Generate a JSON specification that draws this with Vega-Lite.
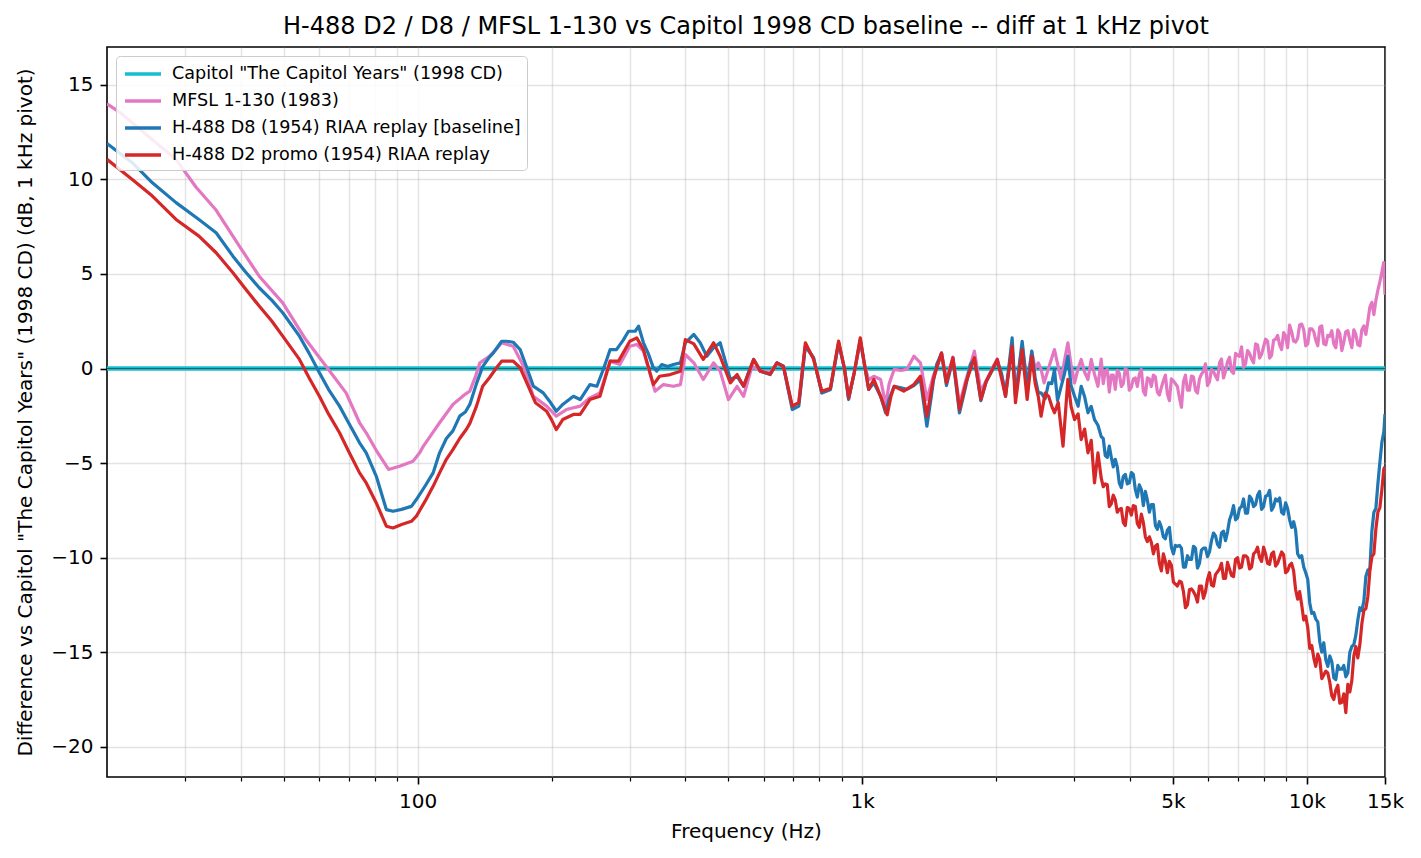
{
"$schema": "https://vega.github.io/schema/vega-lite/v6.json",
"width": 1278, "height": 730,
"autosize": {"type": "none"},
"padding": {"left": 107, "top": 47, "right": 36, "bottom": 81},
"background": "white",
"title": {"text": "H-488 D2 / D8 / MFSL 1-130 vs Capitol 1998 CD baseline -- diff at 1 kHz pivot", "font": "DejaVu Sans", "fontSize": 24, "fontWeight": "normal", "color": "black", "anchor": "middle", "offset": 8, "frame": "group"},
"config": {
  "font": "DejaVu Sans",
  "view": {"stroke": "black", "strokeWidth": 1.6}
},
"datasets": {
"capitol": [{"f":20,"v":0},{"f":15000,"v":0}],
"mfsl": [{"f":20,"v":14.0},{"f":21.5,"v":13.5},{"f":22.8,"v":13.0},{"f":25.3,"v":12.1},{"f":28.6,"v":11.06},{"f":31.7,"v":9.6},{"f":35.1,"v":8.41},{"f":39.7,"v":6.47},{"f":44,"v":4.88},{"f":49.7,"v":3.47},{"f":56,"v":1.53},{"f":62.2,"v":0.12},{"f":69,"v":-1.29},{"f":74,"v":-2.87},{"f":76.6,"v":-3.4},{"f":81,"v":-4.4},{"f":86,"v":-5.34},{"f":91,"v":-5.17},{"f":97.6,"v":-4.9},{"f":101,"v":-4.46},{"f":103,"v":-4.1},{"f":108,"v":-3.4},{"f":112,"v":-2.87},{"f":120,"v":-1.9},{"f":128,"v":-1.35},{"f":131,"v":-1.2},{"f":135,"v":-0.4},{"f":138,"v":0.3},{"f":145,"v":0.65},{"f":150,"v":1.0},{"f":154.5,"v":1.36},{"f":164,"v":1.18},{"f":173,"v":0.12},{"f":182,"v":-1.47},{"f":195,"v":-1.99},{"f":205,"v":-2.52},{"f":216,"v":-2.17},{"f":232,"v":-1.99},{"f":244,"v":-1.55},{"f":257,"v":-1.29},{"f":271,"v":0.39},{"f":285,"v":0.21},{"f":300,"v":1.18},{"f":311,"v":1.27},{"f":322,"v":0.92},{"f":342,"v":-1.2},{"f":357,"v":-0.85},{"f":376,"v":-0.94},{"f":390,"v":-0.85},{"f":400,"v":0.74},{"f":418,"v":0.3},{"f":439,"v":-0.58},{"f":463,"v":0.3},{"f":479,"v":-0.14},{"f":500,"v":-1.64},{"f":523,"v":-0.94},{"f":541,"v":-1.47},{"f":565,"v":0.12},{"f":590,"v":-0.14},{"f":621,"v":-0.23},{"f":643,"v":0.3},{"f":665,"v":0.12},{"f":680,"v":-1.0},{"f":696,"v":-2.0},{"f":720,"v":-1.8},{"f":745,"v":1.18},{"f":777,"v":0.57},{"f":811,"v":-1.29},{"f":848,"v":-1.11},{"f":885,"v":1.36},{"f":912,"v":0.0},{"f":932,"v":-1.6},{"f":960,"v":-0.2},{"f":990,"v":1.4},{"f":1012,"v":0.2},{"f":1034,"v":-0.6},{"f":1062,"v":-0.41},{"f":1100,"v":-0.58},{"f":1129,"v":-1.9},{"f":1150,"v":-0.8},{"f":1180,"v":-0.05},{"f":1222,"v":-0.1},{"f":1260,"v":-0.05},{"f":1307,"v":0.65},{"f":1352,"v":0.3},{"f":1398,"v":-1.64},{"f":1445,"v":-0.4},{"f":1508,"v":0.8},{"f":1547,"v":-0.6},{"f":1600,"v":0.6},{"f":1655,"v":-1.9},{"f":1711,"v":-0.6},{"f":1788,"v":0.92},{"f":1849,"v":-1.2},{"f":1961,"v":0.0},{"f":2013,"v":0.5},{"f":2101,"v":-1.2},{"f":2174,"v":1.2},{"f":2212,"v":-1.3},{"f":2290,"v":1.2},{"f":2350,"v":-0.8},{"f":2407,"v":0.9},{"f":2450,"v":0.0},{"f":2490,"v":0.3},{"f":2526,"v":-0.05},{"f":2566,"v":-0.76},{"f":2640,"v":0.2},{"f":2707,"v":1.0},{"f":2760,"v":0.1},{"f":2803,"v":-0.58},{"f":2850,"v":0.4},{"f":2902,"v":1.36},{"f":2950,"v":0.2},{"f":3004,"v":-0.76},{"f":3060,"v":0.0},{"f":3109,"v":0.48},{"f":3165,"v":-0.2},{"f":3220,"v":-0.58},{"f":3275,"v":0.48},{"f":3330,"v":-0.3},{"f":3391,"v":-0.94},{"f":3449,"v":0.5},{"f":3522,"v":-0.15},{"f":3596,"v":-1.25},{"f":3671,"v":-0.35},{"f":3748,"v":-0.1},{"f":3827,"v":-0.95},{"f":3907,"v":0.0},{"f":3989,"v":-1.15},{"f":4073,"v":-0.55},{"f":4158,"v":-0.95},{"f":4246,"v":-0.05},{"f":4335,"v":-1.4},{"f":4426,"v":-0.55},{"f":4519,"v":-0.35},{"f":4613,"v":-1.25},{"f":4710,"v":-1.0},{"f":4809,"v":-0.35},{"f":4910,"v":-1.7},{"f":5013,"v":-0.65},{"f":5118,"v":-0.95},{"f":5226,"v":-2.05},{"f":5335,"v":-0.35},{"f":5447,"v":-1.15},{"f":5562,"v":-0.45},{"f":5678,"v":-1.3},{"f":5797,"v":-0.3},{"f":5919,"v":0.25},{"f":6043,"v":-0.7},{"f":6170,"v":-0.15},{"f":6299,"v":-0.6},{"f":6431,"v":0.5},{"f":6566,"v":-0.15},{"f":6704,"v":0.6},{"f":6845,"v":-0.25},{"f":6988,"v":0.7},{"f":7135,"v":1.15},{"f":7284,"v":0.25},{"f":7437,"v":0.8},{"f":7593,"v":0.3},{"f":7752,"v":1.25},{"f":7915,"v":0.75},{"f":8081,"v":1.55},{"f":8250,"v":0.55},{"f":8423,"v":1.5},{"f":8600,"v":1.75},{"f":8780,"v":1.0},{"f":8964,"v":1.7},{"f":9152,"v":2.3},{"f":9344,"v":1.45},{"f":9540,"v":1.6},{"f":9744,"v":2.35},{"f":9949,"v":1.2},{"f":10158,"v":2.1},{"f":10371,"v":1.95},{"f":10589,"v":1.2},{"f":10811,"v":2.25},{"f":11038,"v":1.25},{"f":11269,"v":1.7},{"f":11506,"v":1.3},{"f":11747,"v":2.05},{"f":11993,"v":0.95},{"f":12245,"v":1.95},{"f":12502,"v":1.5},{"f":12764,"v":2.05},{"f":13032,"v":1.25},{"f":13305,"v":2.05},{"f":13584,"v":1.8},{"f":13869,"v":3.25},{"f":14160,"v":2.85},{"f":14457,"v":4.15},{"f":14760,"v":5.1},{"f":14900,"v":5.6},{"f":15000,"v":3.9},
{"f":3485,"v":-0.8},{"f":3559,"v":-0.05},{"f":3634,"v":-0.35},{"f":3709,"v":-1.1},{"f":3787,"v":-0.25},{"f":3867,"v":-0.8},{"f":3948,"v":-0.1},{"f":4031,"v":-1.0},{"f":4116,"v":-0.5},{"f":4201,"v":-0.3},{"f":4290,"v":-1.2},{"f":4380,"v":-0.5},{"f":4472,"v":-0.95},{"f":4566,"v":-0.45},{"f":4661,"v":-1.4},{"f":4759,"v":-0.65},{"f":4859,"v":-1.35},{"f":4961,"v":-0.55},{"f":5065,"v":-0.8},{"f":5172,"v":-1.55},{"f":5280,"v":-0.7},{"f":5391,"v":-1.15},{"f":5504,"v":-0.4},{"f":5620,"v":-1.15},{"f":5737,"v":-0.55},{"f":5857,"v":-0.15},{"f":5981,"v":-0.9},{"f":6106,"v":-0.05},{"f":6234,"v":-0.4},{"f":6365,"v":0.3},{"f":6498,"v":-0.5},{"f":6634,"v":0.35},{"f":6774,"v":-0.15},{"f":6916,"v":0.8},{"f":7061,"v":0.65},{"f":7209,"v":0.05},{"f":7360,"v":0.95},{"f":7515,"v":0.5},{"f":7672,"v":1.3},{"f":7833,"v":0.55},{"f":7998,"v":1.15},{"f":8165,"v":1.45},{"f":8336,"v":0.7},{"f":8511,"v":1.55},{"f":8690,"v":1.25},{"f":8872,"v":1.9},{"f":9057,"v":1.1},{"f":9247,"v":1.95},{"f":9441,"v":1.4},{"f":9640,"v":2.3},{"f":9846,"v":2.05},{"f":10053,"v":1.3},{"f":10264,"v":2.1},{"f":10479,"v":1.5},{"f":10700,"v":2.2},{"f":10924,"v":1.3},{"f":11153,"v":1.75},{"f":11387,"v":2.0},{"f":11626,"v":1.1},{"f":11870,"v":1.85},{"f":12118,"v":1.4},{"f":12373,"v":2.0},{"f":12632,"v":1.1},{"f":12897,"v":1.8},{"f":13168,"v":1.2},{"f":13444,"v":2.25},{"f":13726,"v":2.5},{"f":14014,"v":3.5},{"f":14307,"v":3.6},{"f":14608,"v":4.6}],
"d8": [{"f":20,"v":11.9},{"f":22.8,"v":10.88},{"f":25.3,"v":9.82},{"f":28.6,"v":8.77},{"f":32.2,"v":7.88},{"f":35.2,"v":7.18},{"f":38.4,"v":5.94},{"f":41,"v":5.1},{"f":44,"v":4.27},{"f":47,"v":3.6},{"f":49.7,"v":2.95},{"f":54.2,"v":1.71},{"f":57,"v":0.8},{"f":60.1,"v":-0.23},{"f":63,"v":-1.1},{"f":66.7,"v":-1.99},{"f":70,"v":-2.9},{"f":74,"v":-3.93},{"f":76.6,"v":-4.46},{"f":80.7,"v":-5.7},{"f":85,"v":-7.46},{"f":88,"v":-7.55},{"f":92,"v":-7.45},{"f":96.8,"v":-7.29},{"f":99.3,"v":-6.93},{"f":104,"v":-6.2},{"f":108.3,"v":-5.52},{"f":112,"v":-4.46},{"f":116,"v":-3.7},{"f":120,"v":-3.3},{"f":124.3,"v":-2.52},{"f":128,"v":-2.3},{"f":131,"v":-1.9},{"f":135.6,"v":-0.8},{"f":140,"v":0.1},{"f":145,"v":0.6},{"f":148,"v":0.83},{"f":154.5,"v":1.44},{"f":158.5,"v":1.44},{"f":164,"v":1.39},{"f":170,"v":1.0},{"f":176,"v":0.04},{"f":182,"v":-0.93},{"f":191.6,"v":-1.29},{"f":198,"v":-1.73},{"f":205,"v":-2.26},{"f":212,"v":-1.9},{"f":224,"v":-1.47},{"f":232,"v":-1.64},{"f":244,"v":-0.85},{"f":253,"v":-0.94},{"f":262,"v":0.0},{"f":271,"v":1.0},{"f":280,"v":1.0},{"f":290,"v":1.5},{"f":298,"v":1.97},{"f":308.5,"v":1.97},{"f":314,"v":2.24},{"f":322,"v":1.36},{"f":330,"v":0.8},{"f":339,"v":0.04},{"f":345,"v":-0.14},{"f":354,"v":0.21},{"f":365,"v":0.1},{"f":376,"v":0.21},{"f":390,"v":0.3},{"f":400,"v":1.36},{"f":418,"v":1.8},{"f":432,"v":1.36},{"f":447,"v":0.65},{"f":463,"v":1.1},{"f":479,"v":1.36},{"f":492,"v":0.4},{"f":505,"v":-0.58},{"f":523,"v":-0.41},{"f":541,"v":-0.94},{"f":555,"v":-0.2},{"f":570,"v":0.48},{"f":590,"v":-0.14},{"f":621,"v":-0.32},{"f":643,"v":0.3},{"f":665,"v":0.12},{"f":680,"v":-1.0},{"f":696,"v":-2.17},{"f":720,"v":-1.99},{"f":745,"v":1.18},{"f":777,"v":0.57},{"f":811,"v":-1.29},{"f":848,"v":-1.11},{"f":885,"v":1.36},{"f":912,"v":0.0},{"f":932,"v":-1.64},{"f":960,"v":-0.2},{"f":990,"v":1.53},{"f":1012,"v":0.2},{"f":1034,"v":-1.11},{"f":1062,"v":-0.76},{"f":1100,"v":-1.47},{"f":1129,"v":-2.34},{"f":1150,"v":-1.6},{"f":1180,"v":-0.94},{"f":1222,"v":-1.02},{"f":1260,"v":-1.1},{"f":1307,"v":-0.9},{"f":1352,"v":-0.6},{"f":1398,"v":-3.05},{"f":1430,"v":-1.5},{"f":1445,"v":-0.7},{"f":1470,"v":0.2},{"f":1508,"v":0.8},{"f":1547,"v":-0.9},{"f":1600,"v":0.5},{"f":1655,"v":-2.35},{"f":1711,"v":-0.9},{"f":1750,"v":0.2},{"f":1788,"v":0.5},{"f":1849,"v":-1.7},{"f":1900,"v":-0.7},{"f":1961,"v":-0.1},{"f":2013,"v":0.4},{"f":2060,"v":-0.3},{"f":2101,"v":-1.47},{"f":2174,"v":1.62},{"f":2212,"v":-1.5},{"f":2290,"v":1.44},{"f":2350,"v":-1.0},{"f":2407,"v":0.92},{"f":2450,"v":-0.5},{"f":2490,"v":-1.29},{"f":2526,"v":-1.29},{"f":2580,"v":-1.6},{"f":2626,"v":-0.76},{"f":2670,"v":-0.8},{"f":2707,"v":-0.05},{"f":2750,"v":-1.7},{"f":2803,"v":-0.94},{"f":2850,"v":-0.3},{"f":2902,"v":0.65},{"f":2950,"v":-0.9},{"f":3004,"v":-1.47},{"f":3060,"v":-2.0},{"f":3109,"v":-0.94},{"f":3165,"v":-1.5},{"f":3220,"v":-2.34},{"f":3275,"v":-2.0},{"f":3331,"v":-2.7},{"f":3391,"v":-3.0},{"f":3449,"v":-3.6},{"f":3522,"v":-4.6},{"f":3596,"v":-4.1},{"f":3671,"v":-5.2},{"f":3748,"v":-5.2},{"f":3827,"v":-6.3},{"f":3907,"v":-5.6},{"f":3989,"v":-6.05},{"f":4073,"v":-5.6},{"f":4158,"v":-6.8},{"f":4246,"v":-6.4},{"f":4335,"v":-6.5},{"f":4426,"v":-7.6},{"f":4519,"v":-7.2},{"f":4613,"v":-8.5},{"f":4710,"v":-8.4},{"f":4809,"v":-9.0},{"f":4910,"v":-8.4},{"f":5013,"v":-9.8},{"f":5118,"v":-9.4},{"f":5226,"v":-9.5},{"f":5335,"v":-10.5},{"f":5447,"v":-10.1},{"f":5562,"v":-9.4},{"f":5678,"v":-10.55},{"f":5797,"v":-9.6},{"f":5919,"v":-9.5},{"f":6043,"v":-9.7},{"f":6170,"v":-8.7},{"f":6299,"v":-9.3},{"f":6431,"v":-8.7},{"f":6566,"v":-9.1},{"f":6704,"v":-8.0},{"f":6845,"v":-7.25},{"f":6988,"v":-7.9},{"f":7135,"v":-7.3},{"f":7284,"v":-7.65},{"f":7437,"v":-6.75},{"f":7593,"v":-7.3},{"f":7752,"v":-6.7},{"f":7915,"v":-7.45},{"f":8081,"v":-6.75},{"f":8250,"v":-6.45},{"f":8423,"v":-7.3},{"f":8600,"v":-7.0},{"f":8780,"v":-7.6},{"f":8964,"v":-7.1},{"f":9152,"v":-8.0},{"f":9344,"v":-8.1},{"f":9540,"v":-9.8},{"f":9744,"v":-9.9},{"f":9949,"v":-10.8},{"f":10158,"v":-12.4},{"f":10371,"v":-12.9},{"f":10589,"v":-13.4},{"f":10811,"v":-15.0},{"f":11038,"v":-15.4},{"f":11269,"v":-15.2},{"f":11506,"v":-16.35},{"f":11747,"v":-15.7},{"f":11993,"v":-15.9},{"f":12245,"v":-16.3},{"f":12502,"v":-15.0},{"f":12764,"v":-14.6},{"f":13032,"v":-13.3},{"f":13305,"v":-12.8},{"f":13584,"v":-11.0},{"f":13869,"v":-10.6},{"f":14160,"v":-7.6},{"f":14457,"v":-6.1},{"f":14760,"v":-3.9},{"f":15000,"v":-2.4},
{"f":3485,"v":-3.7},{"f":3559,"v":-4.7},{"f":3634,"v":-4.7},{"f":3709,"v":-4.8},{"f":3787,"v":-6.05},{"f":3867,"v":-5.7},{"f":3948,"v":-6.1},{"f":4031,"v":-5.5},{"f":4116,"v":-6.4},{"f":4201,"v":-6.15},{"f":4290,"v":-7.25},{"f":4380,"v":-6.95},{"f":4472,"v":-7.2},{"f":4566,"v":-8.3},{"f":4661,"v":-8.1},{"f":4759,"v":-8.9},{"f":4859,"v":-8.55},{"f":4961,"v":-9.45},{"f":5065,"v":-9.35},{"f":5172,"v":-9.35},{"f":5280,"v":-10.5},{"f":5391,"v":-9.9},{"f":5504,"v":-10.1},{"f":5620,"v":-9.5},{"f":5737,"v":-10.3},{"f":5857,"v":-9.5},{"f":5981,"v":-9.95},{"f":6106,"v":-9.1},{"f":6234,"v":-8.85},{"f":6365,"v":-9.45},{"f":6498,"v":-8.6},{"f":6634,"v":-8.65},{"f":6774,"v":-7.7},{"f":6916,"v":-8.0},{"f":7061,"v":-7.4},{"f":7209,"v":-6.9},{"f":7360,"v":-7.65},{"f":7515,"v":-6.9},{"f":7672,"v":-7.2},{"f":7833,"v":-6.5},{"f":7998,"v":-7.3},{"f":8165,"v":-6.7},{"f":8336,"v":-7.5},{"f":8511,"v":-6.9},{"f":8690,"v":-6.85},{"f":8872,"v":-7.7},{"f":9057,"v":-7.4},{"f":9247,"v":-8.4},{"f":9441,"v":-8.55},{"f":9640,"v":-10.0},{"f":9846,"v":-10.5},{"f":10053,"v":-11.15},{"f":10264,"v":-12.95},{"f":10479,"v":-13.25},{"f":10700,"v":-14.45},{"f":10924,"v":-14.5},{"f":11153,"v":-15.75},{"f":11387,"v":-15.5},{"f":11626,"v":-16.45},{"f":11870,"v":-15.9},{"f":12118,"v":-15.7},{"f":12373,"v":-16.1},{"f":12632,"v":-14.7},{"f":12897,"v":-14.1},{"f":13168,"v":-12.65},{"f":13444,"v":-12.3},{"f":13726,"v":-10.65},{"f":14014,"v":-8.6},{"f":14307,"v":-7.4},{"f":14608,"v":-4.95},{"f":14910,"v":-3.35}],
"d2": [{"f":20,"v":11.06},{"f":22.8,"v":10.0},{"f":25.3,"v":9.12},{"f":28.6,"v":7.88},{"f":32.2,"v":7.0},{"f":35.2,"v":6.12},{"f":38.4,"v":5.06},{"f":41,"v":4.2},{"f":44,"v":3.3},{"f":47,"v":2.5},{"f":49.7,"v":1.71},{"f":54.2,"v":0.48},{"f":57,"v":-0.5},{"f":60.1,"v":-1.47},{"f":63,"v":-2.4},{"f":66.7,"v":-3.4},{"f":70,"v":-4.4},{"f":74,"v":-5.52},{"f":76.6,"v":-6.05},{"f":80.7,"v":-7.11},{"f":85,"v":-8.34},{"f":88,"v":-8.43},{"f":92,"v":-8.25},{"f":96.8,"v":-8.08},{"f":99.3,"v":-7.81},{"f":104,"v":-7.0},{"f":108.3,"v":-6.23},{"f":112,"v":-5.52},{"f":116,"v":-4.8},{"f":120,"v":-4.29},{"f":124.3,"v":-3.7},{"f":128.8,"v":-3.2},{"f":131,"v":-2.9},{"f":135.6,"v":-1.99},{"f":140,"v":-0.94},{"f":145,"v":-0.49},{"f":150,"v":0.0},{"f":154.5,"v":0.39},{"f":159.6,"v":0.39},{"f":164,"v":0.39},{"f":170,"v":0.04},{"f":176,"v":-0.76},{"f":184,"v":-1.81},{"f":195,"v":-2.26},{"f":200,"v":-2.7},{"f":205,"v":-3.23},{"f":212,"v":-2.7},{"f":224,"v":-2.43},{"f":232,"v":-2.43},{"f":244,"v":-1.64},{"f":257,"v":-1.47},{"f":271,"v":0.39},{"f":283,"v":0.39},{"f":300,"v":1.44},{"f":311,"v":1.62},{"f":322,"v":1.0},{"f":339,"v":-0.85},{"f":350,"v":-0.41},{"f":370,"v":-0.32},{"f":390,"v":-0.14},{"f":400,"v":1.53},{"f":418,"v":1.3},{"f":439,"v":0.48},{"f":463,"v":1.36},{"f":479,"v":0.65},{"f":505,"v":-0.76},{"f":523,"v":-0.32},{"f":541,"v":-0.94},{"f":570,"v":0.48},{"f":590,"v":-0.14},{"f":621,"v":-0.3},{"f":643,"v":0.3},{"f":665,"v":0.1},{"f":680,"v":-0.9},{"f":696,"v":-1.99},{"f":720,"v":-1.8},{"f":745,"v":1.36},{"f":777,"v":0.5},{"f":811,"v":-1.2},{"f":848,"v":-1.05},{"f":885,"v":1.45},{"f":912,"v":0.0},{"f":932,"v":-1.55},{"f":960,"v":-0.2},{"f":990,"v":1.62},{"f":1012,"v":0.2},{"f":1034,"v":-1.11},{"f":1062,"v":-0.58},{"f":1100,"v":-1.47},{"f":1138,"v":-2.45},{"f":1160,"v":-1.5},{"f":1180,"v":-0.94},{"f":1240,"v":-1.2},{"f":1307,"v":-0.85},{"f":1352,"v":-0.41},{"f":1398,"v":-2.52},{"f":1445,"v":-0.58},{"f":1508,"v":0.83},{"f":1547,"v":-0.76},{"f":1600,"v":0.57},{"f":1655,"v":-2.17},{"f":1711,"v":-0.76},{"f":1788,"v":0.57},{"f":1849,"v":-1.64},{"f":1900,"v":-0.7},{"f":1961,"v":-0.05},{"f":2013,"v":0.48},{"f":2101,"v":-1.47},{"f":2174,"v":1.18},{"f":2212,"v":-1.81},{"f":2290,"v":1.0},{"f":2350,"v":-1.64},{"f":2407,"v":0.65},{"f":2450,"v":-0.8},{"f":2490,"v":-1.5},{"f":2526,"v":-2.52},{"f":2580,"v":-1.3},{"f":2626,"v":-1.47},{"f":2670,"v":-2.0},{"f":2707,"v":-2.34},{"f":2760,"v":-1.8},{"f":2830,"v":-4.11},{"f":2902,"v":-0.58},{"f":2950,"v":-2.0},{"f":3004,"v":-2.7},{"f":3060,"v":-2.4},{"f":3109,"v":-3.76},{"f":3165,"v":-3.2},{"f":3220,"v":-4.46},{"f":3275,"v":-3.8},{"f":3331,"v":-6.05},{"f":3391,"v":-4.46},{"f":3449,"v":-5.8},{"f":3522,"v":-6.1},{"f":3596,"v":-7.3},{"f":3671,"v":-6.7},{"f":3748,"v":-7.6},{"f":3827,"v":-7.4},{"f":3907,"v":-8.3},{"f":3989,"v":-7.4},{"f":4073,"v":-7.25},{"f":4158,"v":-8.2},{"f":4246,"v":-7.7},{"f":4335,"v":-8.9},{"f":4426,"v":-8.9},{"f":4519,"v":-9.8},{"f":4613,"v":-9.3},{"f":4710,"v":-10.7},{"f":4809,"v":-10.2},{"f":4910,"v":-10.2},{"f":5013,"v":-11.3},{"f":5118,"v":-11.5},{"f":5226,"v":-11.3},{"f":5335,"v":-12.65},{"f":5447,"v":-11.7},{"f":5562,"v":-11.8},{"f":5678,"v":-12.35},{"f":5797,"v":-11.5},{"f":5919,"v":-11.8},{"f":6043,"v":-10.8},{"f":6170,"v":-11.5},{"f":6299,"v":-10.75},{"f":6431,"v":-10.3},{"f":6566,"v":-11.1},{"f":6704,"v":-10.6},{"f":6845,"v":-11.0},{"f":6988,"v":-10.0},{"f":7135,"v":-10.5},{"f":7284,"v":-9.9},{"f":7437,"v":-10.6},{"f":7593,"v":-9.8},{"f":7752,"v":-9.45},{"f":7915,"v":-10.2},{"f":8081,"v":-9.8},{"f":8250,"v":-10.35},{"f":8423,"v":-9.7},{"f":8600,"v":-10.3},{"f":8780,"v":-9.7},{"f":8964,"v":-10.8},{"f":9152,"v":-10.4},{"f":9344,"v":-10.7},{"f":9540,"v":-12.2},{"f":9744,"v":-12.5},{"f":9949,"v":-13.1},{"f":10158,"v":-14.8},{"f":10371,"v":-15.3},{"f":10589,"v":-15.1},{"f":10811,"v":-16.4},{"f":11038,"v":-16.0},{"f":11269,"v":-16.6},{"f":11506,"v":-17.5},{"f":11747,"v":-16.75},{"f":11993,"v":-17.65},{"f":12245,"v":-18.2},{"f":12502,"v":-17.1},{"f":12764,"v":-15.2},{"f":13032,"v":-15.3},{"f":13305,"v":-13.5},{"f":13584,"v":-12.7},{"f":13869,"v":-10.7},{"f":14160,"v":-9.8},{"f":14457,"v":-7.6},{"f":14760,"v":-6.4},{"f":15000,"v":-5.2},
{"f":3485,"v":-6.25},{"f":3559,"v":-6.15},{"f":3634,"v":-7.15},{"f":3709,"v":-6.95},{"f":3787,"v":-7.45},{"f":3867,"v":-8.15},{"f":3948,"v":-7.35},{"f":4031,"v":-7.75},{"f":4116,"v":-7.3},{"f":4201,"v":-8.4},{"f":4290,"v":-8.15},{"f":4380,"v":-9.15},{"f":4472,"v":-9.2},{"f":4566,"v":-9.4},{"f":4661,"v":-10.3},{"f":4759,"v":-9.8},{"f":4859,"v":-10.8},{"f":4961,"v":-10.4},{"f":5065,"v":-11.4},{"f":5172,"v":-11.25},{"f":5280,"v":-11.8},{"f":5391,"v":-12.5},{"f":5504,"v":-11.65},{"f":5620,"v":-12.0},{"f":5737,"v":-11.5},{"f":5857,"v":-12.15},{"f":5981,"v":-11.15},{"f":6106,"v":-11.45},{"f":6234,"v":-10.9},{"f":6365,"v":-10.6},{"f":6498,"v":-11.1},{"f":6634,"v":-10.25},{"f":6774,"v":-10.95},{"f":6916,"v":-10.1},{"f":7061,"v":-10.55},{"f":7209,"v":-9.9},{"f":7360,"v":-10.0},{"f":7515,"v":-10.5},{"f":7672,"v":-9.7},{"f":7833,"v":-10.0},{"f":7998,"v":-9.45},{"f":8165,"v":-10.3},{"f":8336,"v":-9.8},{"f":8511,"v":-10.45},{"f":8690,"v":-10.0},{"f":8872,"v":-9.85},{"f":9057,"v":-10.7},{"f":9247,"v":-10.3},{"f":9441,"v":-11.7},{"f":9640,"v":-11.8},{"f":9846,"v":-13.3},{"f":10053,"v":-13.7},{"f":10264,"v":-14.65},{"f":10479,"v":-15.75},{"f":10700,"v":-15.4},{"f":10924,"v":-16.2},{"f":11153,"v":-16.1},{"f":11387,"v":-17.3},{"f":11626,"v":-17.0},{"f":11870,"v":-17.7},{"f":12118,"v":-17.2},{"f":12373,"v":-16.7},{"f":12632,"v":-16.5},{"f":12897,"v":-14.7},{"f":13168,"v":-14.6},{"f":13444,"v":-12.8},{"f":13726,"v":-12.05},{"f":14014,"v":-9.95},{"f":14307,"v":-8.5},{"f":14608,"v":-7.35},{"f":14910,"v":-5.3}]
},
"encoding": {
  "x": {"field": "f", "type": "quantitative", "title": "Frequency (Hz)",
    "scale": {"type": "log", "domain": [20, 15000], "nice": false},
    "axis": {"values": [30,40,50,60,70,80,90,100,200,300,400,500,600,700,800,900,1000,2000,3000,4000,5000,6000,7000,8000,9000,10000,15000],
      "labelExpr": "datum.value == 100 ? '100' : datum.value == 1000 ? '1k' : datum.value == 5000 ? '5k' : datum.value == 10000 ? '10k' : datum.value == 15000 ? '15k' : ''",
      "labelFont": "DejaVu Sans", "labelFontSize": 20, "labelColor": "black", "labelPadding": 7, "labelFlush": false, "labelOverlap": false, "labelBound": false,
      "domain": false, "tickColor": "black",
      "tickSize": {"condition": {"test": "indexof([100,1000,5000,10000,15000], datum.value) >= 0", "value": 7}, "value": 4},
      "tickWidth": {"condition": {"test": "indexof([100,1000,5000,10000,15000], datum.value) >= 0", "value": 1.6}, "value": 1.2},
      "grid": true, "gridColor": "#b0b0b0", "gridOpacity": 0.35, "gridWidth": 1.4,
      "titleFont": "DejaVu Sans", "titleFontSize": 20, "titleFontWeight": "normal", "titleColor": "black", "titlePadding": 10}},
  "y": {"field": "v", "type": "quantitative", "title": "Difference vs Capitol \"The Capitol Years\" (1998 CD) (dB, 1 kHz pivot)",
    "scale": {"domain": [-21.6, 17], "nice": false, "zero": false},
    "axis": {"values": [-20,-15,-10,-5,0,5,10,15],
      "labelExpr": "replace(datum.label, '-', '\u2212')",
      "labelFont": "DejaVu Sans", "labelFontSize": 20, "labelColor": "black", "labelPadding": 7,
      "domain": false, "tickColor": "black", "tickSize": 7, "tickWidth": 1.6,
      "grid": true, "gridColor": "#b0b0b0", "gridOpacity": 0.35, "gridWidth": 1.4,
      "titleFont": "DejaVu Sans", "titleFontSize": 20, "titleFontWeight": "normal", "titleColor": "black", "titlePadding": 15}}
},
"layer": [
  {"data": {"name": "capitol"}, "mark": {"type": "line", "strokeWidth": 4.5, "clip": true},
   "encoding": {"color": {"datum": "Capitol \"The Capitol Years\" (1998 CD)", "type": "nominal",
     "scale": {"domain": ["Capitol \"The Capitol Years\" (1998 CD)", "MFSL 1-130 (1983)", "H-488 D8 (1954) RIAA replay [baseline]", "H-488 D2 promo (1954) RIAA replay"],
               "range": ["#17becf", "#e377c2", "#1f77b4", "#d62728"]},
     "legend": {"orient": "top-left", "offset": 9, "title": null, "symbolType": "M-1.8,0H1.8", "symbolSize": 400, "symbolStrokeWidth": 3.5, "symbolOffset": 9,
       "labelFont": "DejaVu Sans", "labelFontSize": 17.6, "labelColor": "black", "labelOffset": 17, "labelLimit": 800, "rowPadding": 6,
       "padding": 6, "strokeColor": "#cccccc", "fillColor": "rgba(255,255,255,0.85)", "cornerRadius": 4}}}},
  {"data": {"name": "capitol"}, "mark": {"type": "line", "strokeWidth": 1, "color": "#222222", "opacity": 0.6, "clip": true}, "encoding": {}},
  {"data": {"name": "mfsl"}, "mark": {"type": "line", "strokeWidth": 3.2, "strokeJoin": "round", "clip": true},
   "encoding": {"color": {"datum": "MFSL 1-130 (1983)", "type": "nominal"}}},
  {"data": {"name": "d8"}, "mark": {"type": "line", "strokeWidth": 3.2, "strokeJoin": "round", "clip": true},
   "encoding": {"color": {"datum": "H-488 D8 (1954) RIAA replay [baseline]", "type": "nominal"}}},
  {"data": {"name": "d2"}, "mark": {"type": "line", "strokeWidth": 3.2, "strokeJoin": "round", "clip": true},
   "encoding": {"color": {"datum": "H-488 D2 promo (1954) RIAA replay", "type": "nominal"}}}
]
}
